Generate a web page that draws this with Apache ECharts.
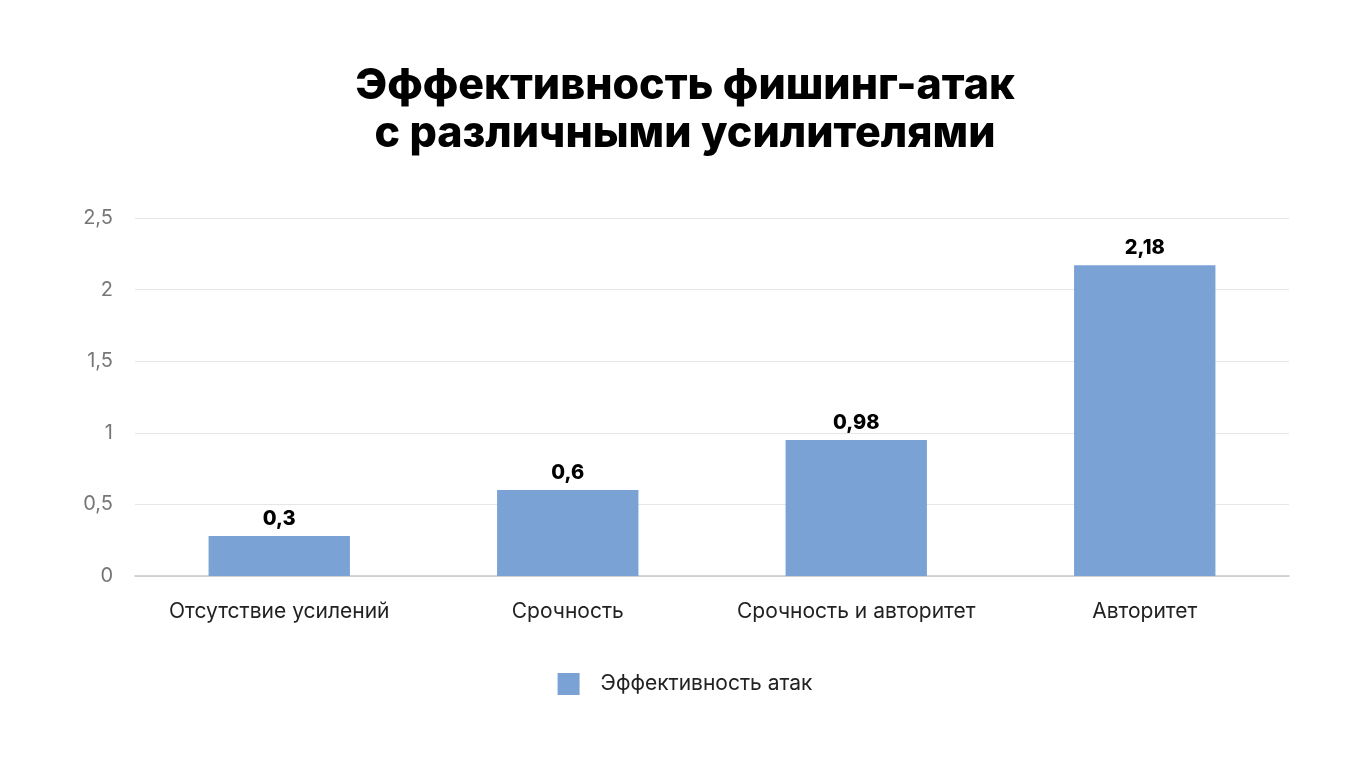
<!DOCTYPE html>
<html>
<head>
<meta charset="utf-8">
<script src="https://cdn.jsdelivr.net/npm/echarts@6/dist/echarts.min.js"></script>
<style>
  html, body { margin: 0; padding: 0; background: #fff; }
  #main { width: 1370px; height: 766px; }
</style>
</head>
<body>
<div id="main"></div>
<script>
var categories = ['Отсутствие усилений', 'Срочность', 'Срочность и авторитет', 'Авторитет']
// bar heights as drawn in the picture
var values = [0.28, 0.6, 0.95, 2.17]
// value labels as printed above bars
var valueLabels = ['0,3', '0,6', '0,98', '2,18']
var seriesName = 'Эффективность атак'

var font = 'Inter, "Open Sans", sans-serif'
var myChart = echarts.init(document.getElementById('main'))

var option = {
    backgroundColor: '#fff',
    title: {
        text: 'Эффективность фишинг-атак\nс различными усилителями',
        left: 'center',
        top: 57,
        textStyle: {
            fontFamily: font,
            fontSize: 43,
            fontWeight: 800,
            color: '#000',
            lineHeight: 48
        }
    },
    legend: {
        bottom: 66,
        left: 'center',
        itemWidth: 22,
        itemHeight: 22,
        itemGap: 20,
        icon: 'rect',
        textStyle: { fontFamily: font, fontSize: 21, color: '#222', padding: [0, 0, 0, 16] },
        data: [seriesName]
    },
    grid: {
        left: 135,
        right: 81,
        top: 218,
        bottom: 190
    },
    xAxis: {
        type: 'category',
        data: categories,
        axisTick: { show: false },
        axisLine: { lineStyle: { color: '#c8c8c8', width: 1.5 } },
        axisLabel: { fontFamily: font, fontSize: 21, color: '#222', margin: 25, interval: 0 }
    },
    yAxis: {
        type: 'value',
        min: 0,
        max: 2.5,
        interval: 0.5,
        axisLine: { show: false },
        axisTick: { show: false },
        splitLine: { lineStyle: { color: '#e6e6e6', width: 1 } },
        axisLabel: {
            fontFamily: font, fontSize: 20, color: '#777', margin: 22,
            formatter: function (v) { return String(v).replace('.', ',') }
        }
    },
    series: [{
        name: seriesName,
        type: 'bar',
        data: values,
        barWidth: '49%',
        itemStyle: { color: '#7ba2d5' },
        label: {
            show: true,
            position: 'top',
            distance: 7,
            fontFamily: font,
            fontSize: 20,
            fontWeight: 800,
            color: '#000',
            formatter: function (p) { return valueLabels[p.dataIndex] }
        }
    }]
}
myChart.setOption(option)
</script>
</body>
</html>
